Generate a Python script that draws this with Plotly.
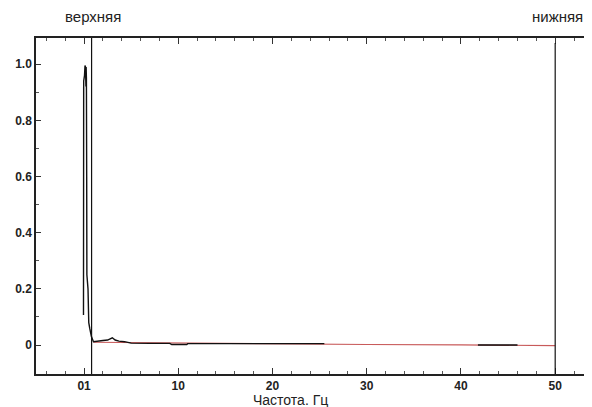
import plotly.graph_objects as go

# Black measured spectrum (None = gap where only the red line shows)
freq_black = [-0.06, -0.05, -0.04, 0.05, 0.1, 0.15, 0.2, 0.22, 0.25, 0.28, 0.3, 0.42, 0.5, 0.6, 0.7, 0.78,
              1.0, 1.5, 2.0, 2.5, 3.0, 3.3, 3.7, 4.3, 5.0, 7.0, 9.1, 9.3, 10.9, 11.0, 12.5, 18.0, 25.5,
              None, 41.8, 44.0, 46.0]
amp_black = [0.107, 0.50, 0.94, 0.96, 0.995, 0.99, 0.92, 0.99, 0.95, 0.60, 0.25, 0.20, 0.08, 0.06, 0.045, 0.03,
             0.012, 0.013, 0.016, 0.018, 0.026, 0.018, 0.014, 0.012, 0.007, 0.006, 0.006, 0.002, 0.002, 0.005, 0.005, 0.005, 0.005,
             None, 0.0, 0.0, 0.0]

# Red fitted line
freq_red = [1.0, 10.0, 20.0, 30.0, 40.0, 50.0]
amp_red = [0.010, 0.007, 0.004, 0.002, 0.0005, -0.002]

x_tickvals = [0, 10, 20, 30, 40, 50]
x_ticktext = ["01", "10", "20", "30", "40", "50"]
y_tickvals = [0, 0.2, 0.4, 0.6, 0.8, 1.0]
y_ticktext = ["0", "0.2", "0.4", "0.6", "0.8", "1.0"]

marker_lines = [0.8, 50]
marker_labels = ["верхняя", "нижняя"]

# page has an 8px body margin; size the figure so it fills the 592x407 window
OFF = 8
W, H = 592 - OFF, 407 - OFF
L, R, T, B = 36 - OFF, 1, 38 - OFF, 33
pw, ph = W - L - R, H - T - B

fig = go.Figure()
fig.add_trace(go.Scatter(x=freq_red, y=amp_red, mode="lines",
                         line=dict(color="#c85a5a", width=1.2), connectgaps=False, showlegend=False))
fig.add_trace(go.Scatter(x=freq_black, y=amp_black, mode="lines",
                         line=dict(color="#111111", width=1.4), connectgaps=False, showlegend=False))

fig.add_shape(type="line", x0=marker_lines[0], x1=marker_lines[0], y0=-0.103, y1=1.093,
              xref="x", yref="y", line=dict(color="#111111", width=1.2))
fig.add_shape(type="line", x0=marker_lines[1], x1=marker_lines[1], y0=-0.103, y1=1.075,
              xref="x", yref="y", line=dict(color="#111111", width=1.2))

def px_ann(text, x, y, size):
    # x, y in window pixels
    fx, fy = x - OFF, y - OFF
    fig.add_annotation(text=text, x=(fx - L) / pw, y=(H - B - fy) / ph, xref="paper", yref="paper",
                       xanchor="center", yanchor="middle", showarrow=False,
                       font=dict(family="Liberation Sans, Arial", size=size, color="#222"))

px_ann(marker_labels[0], 93, 16, 15)
px_ann(marker_labels[1], 557, 16, 15)
px_ann("Частота. Гц", 290, 400, 14)

fig.update_layout(
    width=W, height=H,
    margin=dict(l=L, r=R, t=T, b=B, autoexpand=False),
    paper_bgcolor="white", plot_bgcolor="white",
    font=dict(family="Liberation Sans, Arial", color="#222"),
)
fig.update_xaxes(range=[-5.1, 53.8], tickvals=x_tickvals, ticktext=x_ticktext, automargin=False,
                 ticks="inside", ticklen=6, tickcolor="#333", showline=True, linecolor="#222", linewidth=1.5,
                 mirror="ticks", showgrid=False, zeroline=False, ticklabelstandoff=0,
                 tickfont=dict(size=12, family="Liberation Sans, Arial", weight="bold", color="#222"),
                 minor=dict(dtick=2, tick0=0, ticks="inside", ticklen=3, tickcolor="#555", showgrid=False))
fig.update_yaxes(range=[-0.103, 1.093], tickvals=y_tickvals, ticktext=y_ticktext, automargin=False,
                 ticks="inside", ticklen=5, tickcolor="#333", showline=True, linecolor="#222", linewidth=1.5,
                 showgrid=False, zeroline=False,
                 tickfont=dict(size=12, family="Liberation Sans, Arial", weight="bold", color="#222"),
                 minor=dict(dtick=0.1, tick0=0, ticks="inside", ticklen=3, tickcolor="#555", showgrid=False))

fig.write_html("out.html")
